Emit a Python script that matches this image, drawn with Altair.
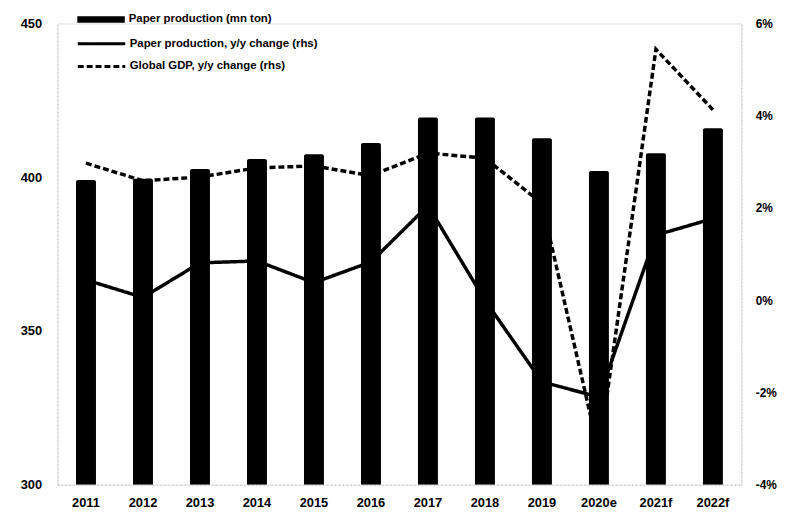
import altair as alt
import pandas as pd

years = ["2011", "2012", "2013", "2014", "2015", "2016", "2017", "2018", "2019", "2020e", "2021f", "2022f"]
production = [399.1, 399.5, 402.7, 405.9, 407.5, 411.1, 419.4, 419.4, 412.7, 402.0, 407.8, 415.9]
prod_yoy = [0.44, 0.06, 0.81, 0.85, 0.38, 0.83, 2.05, 0.0, -1.77, -2.1, 1.41, 1.77]
gdp_yoy = [2.97, 2.59, 2.67, 2.87, 2.91, 2.70, 3.19, 3.08, 2.10, -3.3, 5.44, 4.13]

bar_label = "Paper production (mn ton)"
prod_label = "Paper production, y/y change (rhs)"
gdp_label = "Global GDP, y/y change (rhs)"

bars_df = pd.DataFrame({"year": years, "value": production, "lab": [bar_label] * len(years)})
lines_df = pd.DataFrame({
    "year": years * 2,
    "pct": prod_yoy + gdp_yoy,
    "series": [prod_label] * len(years) + [gdp_label] * len(years),
})

FONT = "Liberation Sans"

x = alt.X("year:N", sort=years, title=None,
          scale=alt.Scale(paddingInner=0.65, paddingOuter=0.325),
          axis=alt.Axis(labelAngle=0, ticks=False, labelPadding=12, labelFontSize=13,
                        labelFontWeight="bold", labelColor="black", labelFont=FONT,
                        domainColor="#bbbbbb", domainDash=[1, 3], domainWidth=1))

bars = alt.Chart(bars_df).mark_bar(cornerRadiusTopLeft=2, cornerRadiusTopRight=2, clip=True).encode(
    x=x,
    y=alt.Y("value:Q", title=None,
            scale=alt.Scale(domain=[300, 450], nice=False, zero=False),
            axis=alt.Axis(values=[300, 350, 400, 450], ticks=False, labelPadding=16,
                          labelFontSize=13, labelFontWeight="bold", labelColor="black",
                          labelFont=FONT, grid=False, domainColor="#bbbbbb",
                          domainDash=[1, 3])),
    y2=alt.datum(300),
    color=alt.Color("lab:N", scale=alt.Scale(domain=[bar_label], range=["black"]),
                    legend=alt.Legend(title=None, orient="none", legendX=37, legendY=-11,
                                      symbolType="M-4,-0.55H4V0.55H-4Z", symbolSize=144,
                                      labelOffset=21, labelFontSize=11.5, labelFontWeight="bold",
                                      labelColor="black", labelFont=FONT, padding=0,
                                      labelLimit=400)),
)

lines = alt.Chart(lines_df).mark_line(strokeWidth=3.5, color="black").encode(
    x=x,
    y=alt.Y("pct:Q", title=None,
            scale=alt.Scale(domain=[-4, 6], nice=False, zero=False),
            axis=alt.Axis(orient="right", values=[-4, -2, 0, 2, 4, 6], ticks=False,
                          labelPadding=14, labelFontSize=12, labelFontWeight="bold",
                          labelColor="black", labelFont=FONT, grid=False,
                          labelExpr="datum.value + '%'", domainColor="#bbbbbb",
                          domainDash=[1, 3])),
    strokeDash=alt.StrokeDash("series:N",
                              scale=alt.Scale(domain=[prod_label, gdp_label],
                                              range=[[1, 0], [6, 3]]),
                              legend=alt.Legend(title=None, orient="none", legendX=37, legendY=13,
                                                symbolType="M-4,0H4", symbolSize=144,
                                                symbolStrokeWidth=3, symbolStrokeColor="black",
                                                rowPadding=9, labelOffset=21, labelFontSize=11.5,
                                                labelFontWeight="bold", labelColor="black",
                                                labelFont=FONT, padding=0, labelLimit=400)),
)

chart = alt.layer(lines, bars).resolve_scale(y="independent").properties(
    width=691, height=466,
    autosize=alt.AutoSizeParams(type="none"),
    padding={"left": 50, "top": 13, "right": 40, "bottom": 28},
).configure_view(stroke=None).configure(background="white")

chart.save("out.html", embed_options={"renderer": "svg", "actions": False})
